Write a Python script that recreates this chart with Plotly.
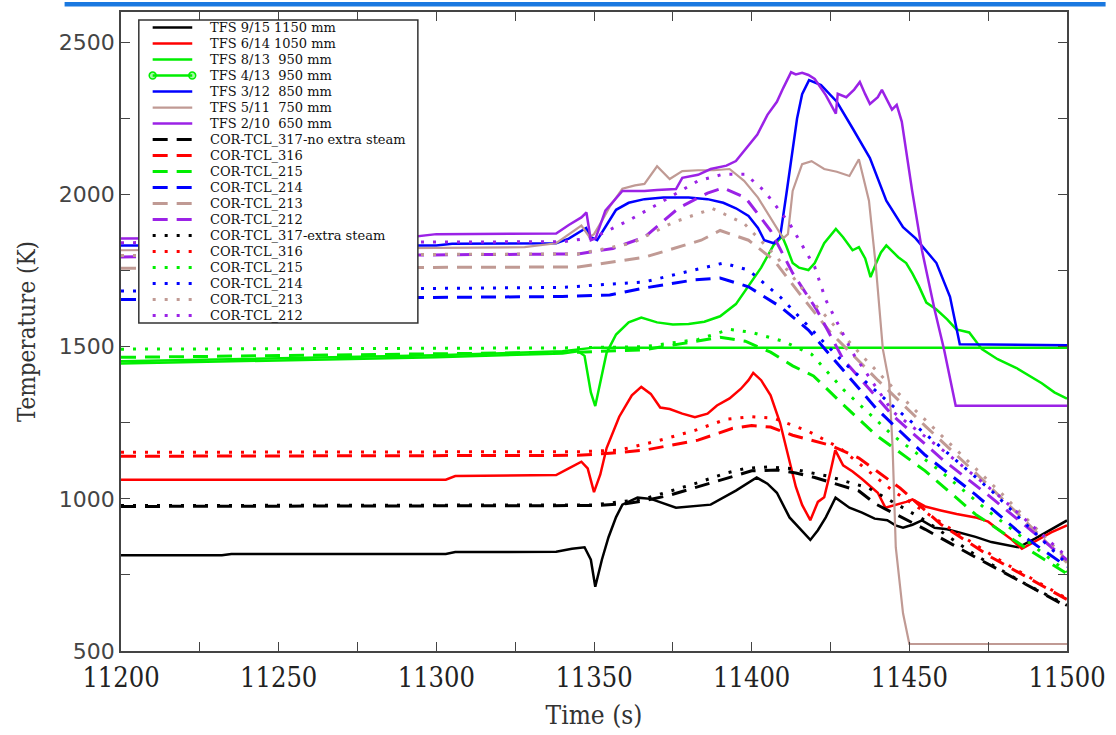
import plotly.graph_objects as go

# ---------------- data ----------------
t_tfs_9_15 = [11200, 11232, 11235, 11303, 11306, 11338, 11343, 11347, 11349, 11350.4, 11352.5, 11354.6, 11357,
              11359, 11363.8, 11368, 11376, 11387, 11395, 11401.6, 11405, 11408, 11412, 11415, 11418.6, 11421,
              11423.5, 11426.6, 11431, 11435, 11439, 11443, 11445.6, 11448, 11451, 11454, 11458, 11462, 11466,
              11471, 11476, 11480, 11484.6, 11490, 11500]
T_tfs_9_15 = [815, 815, 819, 819, 825, 826, 836, 841, 800, 711, 800, 874, 940,
              981, 1004, 1000, 971, 981, 1027, 1070, 1050, 1020, 939, 905, 865, 897,
              939, 1004, 971, 955, 935, 930, 913, 905, 915, 929, 905, 900, 890,
              875, 858, 850, 841, 870, 929]

t_tfs_6_14 = [11200, 11303, 11306, 11338, 11342, 11346, 11348, 11350, 11352, 11354, 11358, 11362, 11365, 11368,
              11371, 11374, 11378, 11382, 11386, 11389, 11393, 11396.6, 11399, 11400.5, 11403, 11406, 11409,
              11412, 11414, 11416, 11418.6, 11421, 11423, 11425, 11426.5, 11429, 11432, 11435, 11437, 11440,
              11442.4, 11446, 11449, 11451, 11455, 11460, 11465, 11471, 11475, 11478, 11482, 11485.7, 11490,
              11495, 11500]
T_tfs_6_14 = [1063, 1063, 1075, 1078, 1100, 1122, 1100, 1022, 1080, 1167, 1270, 1340, 1368, 1345,
              1300, 1295, 1280, 1268, 1280, 1307, 1330, 1362, 1390, 1414, 1390, 1340, 1250,
              1120, 1040, 980, 930, 990, 1005, 1090, 1160, 1110, 1090, 1065, 1047, 1020,
              971, 980, 990, 998, 975, 962, 950, 939, 925, 901, 870, 836, 860,
              890, 913]

t_tfs_8_13 = [11200, 11250, 11300, 11340, 11345, 11347, 11349, 11350.4, 11352, 11354, 11357, 11361, 11365, 11370,
              11375, 11380, 11385, 11390, 11395, 11399, 11403, 11407, 11409.7, 11411, 11413, 11415, 11418,
              11420, 11423, 11426.7, 11429, 11432, 11434, 11436, 11437.7, 11439.5, 11441, 11442.7, 11444.5,
              11446.5, 11449, 11451, 11453, 11455.4, 11458.6, 11462, 11464.9, 11469, 11473, 11478, 11484,
              11488, 11492, 11496, 11500]
T_tfs_8_13 = [1445, 1455, 1465, 1478, 1485, 1470, 1350, 1305, 1380, 1480, 1540, 1580, 1596, 1580,
              1573, 1575, 1582, 1600, 1640, 1700, 1760, 1835, 1862, 1830, 1775, 1760, 1752,
              1775, 1840, 1887, 1860, 1817, 1827, 1790, 1729, 1775, 1810, 1833, 1815,
              1794, 1775, 1740, 1700, 1645, 1622, 1590, 1557, 1547, 1492, 1459, 1430,
              1404, 1380, 1350, 1329]

t_tfs_4_13 = [11200, 11250, 11300, 11340, 11350, 11500]
T_tfs_4_13 = [1452, 1462, 1472, 1485, 1497, 1497]

t_tfs_3_12 = [11200, 11300, 11305, 11338, 11342, 11346, 11347.5, 11349, 11351, 11354, 11357, 11361, 11366, 11372,
              11380, 11386, 11391, 11395, 11399, 11402, 11404, 11407, 11409, 11411, 11414.4, 11416, 11418.2,
              11422, 11427, 11432, 11437.5, 11442.7, 11448, 11452, 11455, 11458.6, 11462.9, 11466, 11500]
T_tfs_3_12 = [1833, 1833, 1838, 1840, 1855, 1880, 1890, 1860, 1850, 1900, 1950, 1973, 1985, 1990,
              1990, 1985, 1973, 1955, 1930, 1890, 1850, 1840, 1860, 2001, 2250, 2330, 2376,
              2360, 2305, 2218, 2120, 1980, 1893, 1856, 1820, 1775, 1664, 1508, 1505]

t_tfs_5_11 = [11200, 11294, 11328, 11338, 11346, 11348.6, 11350, 11352.6, 11355, 11359, 11363, 11366, 11370,
              11374, 11378, 11383, 11388, 11393, 11397.6, 11402, 11407, 11410, 11411.5, 11413, 11416, 11419,
              11423, 11427, 11431, 11434, 11437.2, 11439.4, 11441.6, 11443.6, 11444.7, 11445.7, 11448, 11450,
              11500]
T_tfs_5_11 = [1817, 1825, 1827, 1840, 1898, 1860, 1870, 1915, 1960, 2019, 2030, 2035, 2093,
              2051, 2077, 2080, 2080, 2084, 2045, 1990, 1905, 1856, 1870, 2012, 2100, 2110,
              2084, 2075, 2061, 2116, 1980, 1762, 1492, 1383, 1167, 841, 624, 523,
              523]

t_tfs_2_10 = [11200, 11290, 11300, 11338, 11342, 11346, 11347.6, 11349, 11350.5, 11353.6, 11359, 11366, 11370,
              11376, 11378, 11383, 11387, 11392, 11395, 11397.6, 11401.8, 11405, 11408, 11410, 11412.5, 11414,
              11416, 11418, 11420, 11423.5, 11426.7, 11427.3, 11430, 11432.5, 11434.3, 11436, 11437.5, 11440,
              11441.3, 11444.5, 11446, 11447.6, 11450.9, 11454, 11458, 11461, 11464.7, 11500]
T_tfs_2_10 = [1856, 1858, 1870, 1872, 1900, 1925, 1941, 1850, 1856, 1947, 2012, 2012, 2015,
              2018, 2055, 2065, 2084, 2095, 2110, 2142, 2197, 2262, 2305, 2350, 2402, 2395,
              2400, 2393, 2380, 2327, 2266, 2331, 2320, 2345, 2370, 2330, 2298, 2320,
              2344, 2279, 2295, 2240, 2012, 1817, 1622, 1492, 1306, 1306]

# simulations, no extra steam (dashed)
t_317_no = [11200, 11350, 11360, 11366, 11374, 11382, 11392, 11400, 11408, 11414, 11420, 11427, 11434, 11439.5,
            11455, 11471, 11486.6, 11500]
T_317_no = [975, 978, 984, 994, 1012, 1037, 1069, 1092, 1095, 1085, 1070, 1047, 1026, 982,
            900, 808, 721, 646]
t_316_no = [11200, 11345, 11355, 11366, 11383, 11394, 11400, 11406, 11413, 11425, 11434, 11447, 11460, 11476, 11500]
T_316_no = [1140, 1143, 1150, 1160, 1193, 1232, 1241, 1236, 1209, 1176, 1134, 1036, 916, 808, 669]
t_215_no = [11200, 11345, 11366, 11382, 11390, 11398, 11406, 11413, 11419.6, 11429, 11439.5, 11455, 11471, 11486.6,
            11500]
T_215_no = [1465, 1482, 1490, 1518, 1531, 1518, 1482, 1437, 1404, 1310, 1209, 1092, 949, 841, 754]
t_214_no = [11200, 11340, 11355, 11366, 11382, 11390, 11399, 11409, 11418, 11426, 11439.5, 11455, 11471, 11486.6,
            11500]
T_214_no = [1655, 1665, 1670, 1693, 1720, 1726, 1697, 1632, 1555, 1460, 1297, 1144, 1014, 874, 777]
t_213_no = [11200, 11345, 11366, 11384, 11390, 11399, 11407, 11415, 11425, 11440, 11455, 11470, 11485, 11500]
T_213_no = [1758, 1762, 1794, 1850, 1882, 1850, 1785, 1677, 1547, 1390, 1240, 1095, 945, 790]
t_212_no = [11200, 11345, 11356, 11366, 11377, 11386, 11391, 11398, 11406, 11413, 11420.6, 11429, 11444.7, 11460,
            11476, 11500]
T_212_no = [1795, 1805, 1823, 1860, 1957, 2005, 2022, 1990, 1882, 1742, 1622, 1459, 1274, 1134, 1004, 799]

# simulations, extra steam (dotted)
t_317_ex = [11200, 11350, 11366, 11382, 11392, 11398, 11405, 11412, 11424, 11437, 11455, 11471, 11486, 11500]
T_317_ex = [978, 980, 1000, 1050, 1085, 1100, 1105, 1100, 1075, 1036, 929, 815, 725, 650]
t_316_ex = [11200, 11345, 11358, 11370, 11382, 11392, 11400, 11407, 11418, 11428, 11444.7, 11465.7, 11480, 11500]
T_316_ex = [1153, 1155, 1160, 1190, 1225, 1262, 1270, 1265, 1222, 1167, 1027, 884, 790, 672]
t_215_ex = [11200, 11340, 11366, 11383, 11393, 11400, 11410, 11419, 11429, 11444.7, 11460, 11475, 11490, 11500]
T_215_ex = [1492, 1496, 1500, 1524, 1557, 1547, 1518, 1475, 1360, 1209, 1090, 960, 840, 760]
t_214_ex = [11200, 11340, 11366, 11382, 11391, 11399, 11409, 11418, 11429, 11444.7, 11460.4, 11476, 11500]
T_214_ex = [1683, 1695, 1713, 1752, 1775, 1752, 1664, 1567, 1450, 1306, 1167, 1027, 786]
t_213_ex = [11200, 11345, 11362, 11375, 11387.6, 11397.6, 11408, 11420, 11435, 11450, 11465, 11480, 11500]
T_213_ex = [1800, 1805, 1840, 1908, 1954, 1905, 1794, 1640, 1470, 1310, 1160, 1010, 800]
t_212_ex = [11200, 11340, 11350, 11361, 11371, 11383, 11391, 11398, 11404, 11412, 11420, 11423.5, 11432, 11444.7,
            11461, 11478, 11500]
T_212_ex = [1842, 1845, 1859, 1915, 1973, 2045, 2067, 2067, 2012, 1905, 1762, 1654, 1480, 1287, 1157, 1014, 809]

x_ticks = [11200, 11250, 11300, 11350, 11400, 11450, 11500]
y_ticks = [500, 1000, 1500, 2000, 2500]

# ---------------- styles ----------------
BLACK, RED, GREEN, BLUE, BROWN, PURPLE = "#000000", "#FF0000", "#00EE00", "#0000FF", "#C09A94", "#9B22E6"
DASH = "15px,9px"
DOT = "3px,9px"

series = [
    ("TFS 9/15 1150 mm", t_tfs_9_15, T_tfs_9_15, BLACK, "solid"),
    ("TFS 6/14 1050 mm", t_tfs_6_14, T_tfs_6_14, RED, "solid"),
    ("TFS 8/13  950 mm", t_tfs_8_13, T_tfs_8_13, GREEN, "solid"),
    ("TFS 4/13  950 mm", t_tfs_4_13, T_tfs_4_13, GREEN, "marker"),
    ("TFS 3/12  850 mm", t_tfs_3_12, T_tfs_3_12, BLUE, "solid"),
    ("TFS 5/11  750 mm", t_tfs_5_11, T_tfs_5_11, BROWN, "solid"),
    ("TFS 2/10  650 mm", t_tfs_2_10, T_tfs_2_10, PURPLE, "solid"),
    ("COR-TCL_317-no extra steam", t_317_no, T_317_no, BLACK, "dash"),
    ("COR-TCL_316", t_316_no, T_316_no, RED, "dash"),
    ("COR-TCL_215", t_215_no, T_215_no, GREEN, "dash"),
    ("COR-TCL_214", t_214_no, T_214_no, BLUE, "dash"),
    ("COR-TCL_213", t_213_no, T_213_no, BROWN, "dash"),
    ("COR-TCL_212", t_212_no, T_212_no, PURPLE, "dash"),
    ("COR-TCL_317-extra steam", t_317_ex, T_317_ex, BLACK, "dot"),
    ("COR-TCL_316", t_316_ex, T_316_ex, RED, "dot"),
    ("COR-TCL_215", t_215_ex, T_215_ex, GREEN, "dot"),
    ("COR-TCL_214", t_214_ex, T_214_ex, BLUE, "dot"),
    ("COR-TCL_213", t_213_ex, T_213_ex, BROWN, "dot"),
    ("COR-TCL_212", t_212_ex, T_212_ex, PURPLE, "dot"),
]


def line_style(col, kind):
    if kind in ("solid", "marker"):
        return dict(color=col, width=2.5 if col != BROWN else 2.2)
    if kind == "dash":
        return dict(color=col, width=3, dash=DASH)
    return dict(color=col, width=3, dash=DOT)


fig = go.Figure()
for name, tx, ty, col, kind in series:
    fig.add_trace(go.Scatter(x=tx, y=ty, mode="lines", name=name, line=line_style(col, kind),
                             showlegend=False, hoverinfo="x+y+name"))

# ---------------- layout geometry ----------------
W, H = 1116, 735
L, R, T, B = 121, 39, 10, 80
PW, PH = W - L - R, H - T - B


def px(xp):
    return (xp - L) / PW


def py(yp):
    return (H - B - yp) / PH


shapes = []
annotations = []

# top blue bar
shapes.append(dict(type="rect", xref="paper", yref="paper", x0=px(64), x1=px(1116), y0=py(4.5), y1=py(0),
                   line=dict(width=0), fillcolor="#1a78e0", layer="above"))

# manual legend (compact, as in the reference)
shapes.append(dict(type="rect", xref="paper", yref="paper", x0=px(139), x1=px(421), y0=py(324), y1=py(18),
                   line=dict(color="#333333", width=1.5), fillcolor="white", layer="above"))
row0, rowstep = 25.7, 16.15
for i, (name, tx, ty, col, kind) in enumerate(series):
    yy = row0 + rowstep * i
    shapes.append(dict(type="line", xref="paper", yref="paper", x0=px(153), x1=px(193), y0=py(yy), y1=py(yy),
                       line=line_style(col, kind), layer="above"))
    if kind == "marker":
        for cx in (153, 193):
            shapes.append(dict(type="circle", xref="paper", yref="paper", x0=px(cx - 3.5), x1=px(cx + 3.5),
                               y0=py(yy + 3.5), y1=py(yy - 3.5), line=dict(color=col, width=1.5),
                               fillcolor="rgba(0,238,0,0.35)", layer="above"))
    annotations.append(dict(text=name.replace(" ", "\u00a0"), xref="paper", yref="paper", x=px(209), y=py(yy),
                            xanchor="left", yanchor="middle", showarrow=False,
                            font=dict(family="DejaVu Serif", size=13, color="#111111")))

axis_common = dict(showline=True, linecolor="#444444", linewidth=1.5, mirror="ticks", ticks="inside",
                   ticklen=9, tickwidth=1.3, tickcolor="#444444", showgrid=False, zeroline=False)

fig.update_layout(
    width=W, height=H,
    margin=dict(l=L, r=R, t=T, b=B),
    paper_bgcolor="white", plot_bgcolor="white",
    showlegend=False,
    shapes=shapes, annotations=annotations,
    xaxis=dict(range=[11200, 11500], tickvals=x_ticks, ticktext=[str(v) for v in x_ticks],
               minor=dict(dtick=25, tick0=11200, ticks="inside", ticklen=9, tickcolor="#444444", tickwidth=1.3),
               tickfont=dict(family="DejaVu Serif Condensed, DejaVu Serif", size=27, color="#222222"),
               ticklabelstandoff=2,
               title=dict(text="Time (s)", standoff=14,
                          font=dict(family="DejaVu Serif Condensed, DejaVu Serif", size=26, color="#333333")),
               **axis_common),
    yaxis=dict(range=[500, 2600], tickvals=y_ticks, ticktext=[str(v) for v in y_ticks],
               minor=dict(dtick=250, tick0=500, ticks="inside", ticklen=9, tickcolor="#444444", tickwidth=1.3),
               tickfont=dict(family="DejaVu Sans", size=22, color="#444444"),
               title=dict(text="Temperature (K)", standoff=16,
                          font=dict(family="DejaVu Serif Condensed, DejaVu Serif", size=24, color="#333333")),
               **axis_common),
)

fig.write_html("out.html", config={"displayModeBar": False},
               post_script="document.body.style.margin='0';")
